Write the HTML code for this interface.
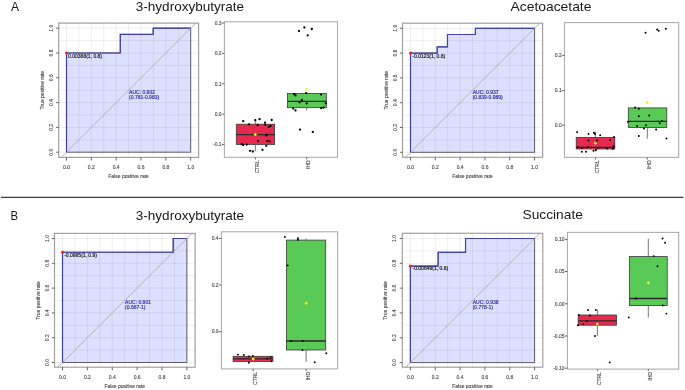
<!DOCTYPE html>
<html><head><meta charset="utf-8"><style>
html,body{margin:0;padding:0;background:#fff;}
svg{display:block;filter:blur(0.45px);}
.t5{font-family:"Liberation Sans", sans-serif;font-size:5px;stroke-width:0.18px;paint-order:stroke;}
.lb{fill:#474747;stroke:#474747;stroke-width:0.12px;}
.tt{font-family:"Liberation Sans", sans-serif;font-size:12.9px;fill:#1a1a1a;}
.gr{stroke:#000;stroke-opacity:0.075;stroke-width:0.9;}
.tk{stroke:#444;stroke-width:0.8;}
</style></head><body>
<svg width="685" height="390" viewBox="0 0 685 390">
<defs><clipPath id="c1"><rect x="58.7" y="23.1" width="139.9" height="134.3"/></clipPath><clipPath id="c2"><rect x="402.5" y="23.2" width="140.1" height="134.1"/></clipPath><clipPath id="c3"><rect x="54.5" y="233.4" width="140.6" height="133.8"/></clipPath><clipPath id="c4"><rect x="402.3" y="233.3" width="140.5" height="133.9"/></clipPath></defs>
<rect width="685" height="390" fill="#fff"/>
<text x="11.1" y="10.75" class="tt" style="font-size:13.2px" textLength="8.1" lengthAdjust="spacingAndGlyphs">A</text>
<text x="10.6" y="219.85" class="tt" style="font-size:13.2px" textLength="7.5" lengthAdjust="spacingAndGlyphs">B</text>
<text x="135.8" y="10.5" class="tt" textLength="108.3" lengthAdjust="spacingAndGlyphs">3-hydroxybutyrate</text>
<text x="510.5" y="10.6" class="tt" textLength="80.9" lengthAdjust="spacingAndGlyphs">Acetoacetate</text>
<text x="135.8" y="219.5" class="tt" textLength="108.3" lengthAdjust="spacingAndGlyphs">3-hydroxybutyrate</text>
<text x="522.5" y="219.4" class="tt" textLength="60.4" lengthAdjust="spacingAndGlyphs">Succinate</text>
<line x1="1" y1="197.35" x2="683.5" y2="197.35" stroke="#3c3c3c" stroke-width="1.25"/>
<polygon points="66.5,152.2 66.5,53 120.28,53 120.28,34.4 153.19,34.4 153.19,28.2 190.7,28.2 190.7,152.2" fill="#dce0fe" stroke="#5a5a6a" stroke-width="0.95"/>
<line x1="66.5" y1="23.1" x2="66.5" y2="157.4" class="gr"/>
<line x1="58.7" y1="152.2" x2="198.6" y2="152.2" class="gr"/>
<line x1="78.92" y1="23.1" x2="78.92" y2="157.4" class="gr"/>
<line x1="58.7" y1="139.8" x2="198.6" y2="139.8" class="gr"/>
<line x1="91.34" y1="23.1" x2="91.34" y2="157.4" class="gr"/>
<line x1="58.7" y1="127.4" x2="198.6" y2="127.4" class="gr"/>
<line x1="103.76" y1="23.1" x2="103.76" y2="157.4" class="gr"/>
<line x1="58.7" y1="115" x2="198.6" y2="115" class="gr"/>
<line x1="116.18" y1="23.1" x2="116.18" y2="157.4" class="gr"/>
<line x1="58.7" y1="102.6" x2="198.6" y2="102.6" class="gr"/>
<line x1="128.6" y1="23.1" x2="128.6" y2="157.4" class="gr"/>
<line x1="58.7" y1="90.2" x2="198.6" y2="90.2" class="gr"/>
<line x1="141.02" y1="23.1" x2="141.02" y2="157.4" class="gr"/>
<line x1="58.7" y1="77.8" x2="198.6" y2="77.8" class="gr"/>
<line x1="153.44" y1="23.1" x2="153.44" y2="157.4" class="gr"/>
<line x1="58.7" y1="65.4" x2="198.6" y2="65.4" class="gr"/>
<line x1="165.86" y1="23.1" x2="165.86" y2="157.4" class="gr"/>
<line x1="58.7" y1="53" x2="198.6" y2="53" class="gr"/>
<line x1="178.28" y1="23.1" x2="178.28" y2="157.4" class="gr"/>
<line x1="58.7" y1="40.6" x2="198.6" y2="40.6" class="gr"/>
<line x1="190.7" y1="23.1" x2="190.7" y2="157.4" class="gr"/>
<line x1="58.7" y1="28.2" x2="198.6" y2="28.2" class="gr"/>
<line x1="59.05" y1="159.64" x2="198.15" y2="20.76" stroke="#b0b0b8" stroke-width="0.95" clip-path="url(#c1)"/>
<polyline points="66.5,152.2 66.5,53 120.28,53 120.28,34.4 153.19,34.4 153.19,28.2 190.7,28.2" fill="none" stroke="#4040aa" stroke-width="1.2"/>
<circle cx="66.5" cy="53" r="1.5" fill="#ff1a1a"/>
<text x="68.1" y="57.7" class="t5" fill="#222" stroke="#222">0.00388(1, 0.8)</text>
<text x="129.1" y="93.8" class="t5" fill="#3434a0" stroke="#3434a0">AUC: 0.902</text>
<text x="129.1" y="99.2" class="t5" fill="#3434a0" stroke="#3434a0">(0.781-0.983)</text>
<rect x="58.7" y="23.1" width="139.9" height="134.3" fill="none" stroke="#a0a0a0" stroke-width="1.2"/>
<line x1="66.5" y1="157.4" x2="66.5" y2="160.5" class="tk"/>
<line x1="56.1" y1="152.2" x2="58.7" y2="152.2" class="tk"/>
<text x="66.5" y="168.8" class="t5 lb" text-anchor="middle">0.0</text>
<text transform="translate(52.9,152.2) rotate(-90)" class="t5 lb" text-anchor="middle">0.0</text>
<line x1="91.34" y1="157.4" x2="91.34" y2="160.5" class="tk"/>
<line x1="56.1" y1="127.4" x2="58.7" y2="127.4" class="tk"/>
<text x="91.34" y="168.8" class="t5 lb" text-anchor="middle">0.2</text>
<text transform="translate(52.9,127.4) rotate(-90)" class="t5 lb" text-anchor="middle">0.2</text>
<line x1="116.18" y1="157.4" x2="116.18" y2="160.5" class="tk"/>
<line x1="56.1" y1="102.6" x2="58.7" y2="102.6" class="tk"/>
<text x="116.18" y="168.8" class="t5 lb" text-anchor="middle">0.4</text>
<text transform="translate(52.9,102.6) rotate(-90)" class="t5 lb" text-anchor="middle">0.4</text>
<line x1="141.02" y1="157.4" x2="141.02" y2="160.5" class="tk"/>
<line x1="56.1" y1="77.8" x2="58.7" y2="77.8" class="tk"/>
<text x="141.02" y="168.8" class="t5 lb" text-anchor="middle">0.6</text>
<text transform="translate(52.9,77.8) rotate(-90)" class="t5 lb" text-anchor="middle">0.6</text>
<line x1="165.86" y1="157.4" x2="165.86" y2="160.5" class="tk"/>
<line x1="56.1" y1="53" x2="58.7" y2="53" class="tk"/>
<text x="165.86" y="168.8" class="t5 lb" text-anchor="middle">0.8</text>
<text transform="translate(52.9,53) rotate(-90)" class="t5 lb" text-anchor="middle">0.8</text>
<line x1="190.7" y1="157.4" x2="190.7" y2="160.5" class="tk"/>
<line x1="56.1" y1="28.2" x2="58.7" y2="28.2" class="tk"/>
<text x="190.7" y="168.8" class="t5 lb" text-anchor="middle">1.0</text>
<text transform="translate(52.9,28.2) rotate(-90)" class="t5 lb" text-anchor="middle">1.0</text>
<text x="128.6" y="177.6" class="t5 lb" text-anchor="middle">False positive rate</text>
<text transform="translate(43.7,90.2) rotate(-90)" class="t5 lb" text-anchor="middle">True positive rate</text>
<polygon points="410.5,152.3 410.5,53.1 437.18,53.1 437.18,46.9 447.48,46.9 447.48,34.5 475.4,34.5 475.4,28.3 534.6,28.3 534.6,152.3" fill="#dce0fe" stroke="#5a5a6a" stroke-width="0.95"/>
<line x1="410.5" y1="23.2" x2="410.5" y2="157.3" class="gr"/>
<line x1="402.5" y1="152.3" x2="542.6" y2="152.3" class="gr"/>
<line x1="422.91" y1="23.2" x2="422.91" y2="157.3" class="gr"/>
<line x1="402.5" y1="139.9" x2="542.6" y2="139.9" class="gr"/>
<line x1="435.32" y1="23.2" x2="435.32" y2="157.3" class="gr"/>
<line x1="402.5" y1="127.5" x2="542.6" y2="127.5" class="gr"/>
<line x1="447.73" y1="23.2" x2="447.73" y2="157.3" class="gr"/>
<line x1="402.5" y1="115.1" x2="542.6" y2="115.1" class="gr"/>
<line x1="460.14" y1="23.2" x2="460.14" y2="157.3" class="gr"/>
<line x1="402.5" y1="102.7" x2="542.6" y2="102.7" class="gr"/>
<line x1="472.55" y1="23.2" x2="472.55" y2="157.3" class="gr"/>
<line x1="402.5" y1="90.3" x2="542.6" y2="90.3" class="gr"/>
<line x1="484.96" y1="23.2" x2="484.96" y2="157.3" class="gr"/>
<line x1="402.5" y1="77.9" x2="542.6" y2="77.9" class="gr"/>
<line x1="497.37" y1="23.2" x2="497.37" y2="157.3" class="gr"/>
<line x1="402.5" y1="65.5" x2="542.6" y2="65.5" class="gr"/>
<line x1="509.78" y1="23.2" x2="509.78" y2="157.3" class="gr"/>
<line x1="402.5" y1="53.1" x2="542.6" y2="53.1" class="gr"/>
<line x1="522.19" y1="23.2" x2="522.19" y2="157.3" class="gr"/>
<line x1="402.5" y1="40.7" x2="542.6" y2="40.7" class="gr"/>
<line x1="534.6" y1="23.2" x2="534.6" y2="157.3" class="gr"/>
<line x1="402.5" y1="28.3" x2="542.6" y2="28.3" class="gr"/>
<line x1="403.05" y1="159.74" x2="542.05" y2="20.86" stroke="#b0b0b8" stroke-width="0.95" clip-path="url(#c2)"/>
<polyline points="410.5,152.3 410.5,53.1 437.18,53.1 437.18,46.9 447.48,46.9 447.48,34.5 475.4,34.5 475.4,28.3 534.6,28.3" fill="none" stroke="#4040aa" stroke-width="1.2"/>
<circle cx="410.5" cy="53.1" r="1.5" fill="#ff1a1a"/>
<text x="412.3" y="57.7" class="t5" fill="#222" stroke="#222">-0.0123(1, 0.8)</text>
<text x="472.7" y="93.8" class="t5" fill="#3434a0" stroke="#3434a0">AUC: 0.937</text>
<text x="472.7" y="99.2" class="t5" fill="#3434a0" stroke="#3434a0">(0.839-0.989)</text>
<rect x="402.5" y="23.2" width="140.1" height="134.1" fill="none" stroke="#a0a0a0" stroke-width="1.2"/>
<line x1="410.5" y1="157.3" x2="410.5" y2="160.4" class="tk"/>
<line x1="399.9" y1="152.3" x2="402.5" y2="152.3" class="tk"/>
<text x="410.5" y="168.7" class="t5 lb" text-anchor="middle">0.0</text>
<text transform="translate(396.7,152.3) rotate(-90)" class="t5 lb" text-anchor="middle">0.0</text>
<line x1="435.32" y1="157.3" x2="435.32" y2="160.4" class="tk"/>
<line x1="399.9" y1="127.5" x2="402.5" y2="127.5" class="tk"/>
<text x="435.32" y="168.7" class="t5 lb" text-anchor="middle">0.2</text>
<text transform="translate(396.7,127.5) rotate(-90)" class="t5 lb" text-anchor="middle">0.2</text>
<line x1="460.14" y1="157.3" x2="460.14" y2="160.4" class="tk"/>
<line x1="399.9" y1="102.7" x2="402.5" y2="102.7" class="tk"/>
<text x="460.14" y="168.7" class="t5 lb" text-anchor="middle">0.4</text>
<text transform="translate(396.7,102.7) rotate(-90)" class="t5 lb" text-anchor="middle">0.4</text>
<line x1="484.96" y1="157.3" x2="484.96" y2="160.4" class="tk"/>
<line x1="399.9" y1="77.9" x2="402.5" y2="77.9" class="tk"/>
<text x="484.96" y="168.7" class="t5 lb" text-anchor="middle">0.6</text>
<text transform="translate(396.7,77.9) rotate(-90)" class="t5 lb" text-anchor="middle">0.6</text>
<line x1="509.78" y1="157.3" x2="509.78" y2="160.4" class="tk"/>
<line x1="399.9" y1="53.1" x2="402.5" y2="53.1" class="tk"/>
<text x="509.78" y="168.7" class="t5 lb" text-anchor="middle">0.8</text>
<text transform="translate(396.7,53.1) rotate(-90)" class="t5 lb" text-anchor="middle">0.8</text>
<line x1="534.6" y1="157.3" x2="534.6" y2="160.4" class="tk"/>
<line x1="399.9" y1="28.3" x2="402.5" y2="28.3" class="tk"/>
<text x="534.6" y="168.7" class="t5 lb" text-anchor="middle">1.0</text>
<text transform="translate(396.7,28.3) rotate(-90)" class="t5 lb" text-anchor="middle">1.0</text>
<text x="472.55" y="177.5" class="t5 lb" text-anchor="middle">False positive rate</text>
<text transform="translate(387.5,90.3) rotate(-90)" class="t5 lb" text-anchor="middle">True positive rate</text>
<polygon points="62.5,362.5 62.5,252.26 173.22,252.26 173.22,238.5 186.9,238.5 186.9,362.5" fill="#dce0fe" stroke="#5a5a6a" stroke-width="0.95"/>
<line x1="62.5" y1="233.4" x2="62.5" y2="367.2" class="gr"/>
<line x1="54.5" y1="362.5" x2="195.1" y2="362.5" class="gr"/>
<line x1="74.94" y1="233.4" x2="74.94" y2="367.2" class="gr"/>
<line x1="54.5" y1="350.1" x2="195.1" y2="350.1" class="gr"/>
<line x1="87.38" y1="233.4" x2="87.38" y2="367.2" class="gr"/>
<line x1="54.5" y1="337.7" x2="195.1" y2="337.7" class="gr"/>
<line x1="99.82" y1="233.4" x2="99.82" y2="367.2" class="gr"/>
<line x1="54.5" y1="325.3" x2="195.1" y2="325.3" class="gr"/>
<line x1="112.26" y1="233.4" x2="112.26" y2="367.2" class="gr"/>
<line x1="54.5" y1="312.9" x2="195.1" y2="312.9" class="gr"/>
<line x1="124.7" y1="233.4" x2="124.7" y2="367.2" class="gr"/>
<line x1="54.5" y1="300.5" x2="195.1" y2="300.5" class="gr"/>
<line x1="137.14" y1="233.4" x2="137.14" y2="367.2" class="gr"/>
<line x1="54.5" y1="288.1" x2="195.1" y2="288.1" class="gr"/>
<line x1="149.58" y1="233.4" x2="149.58" y2="367.2" class="gr"/>
<line x1="54.5" y1="275.7" x2="195.1" y2="275.7" class="gr"/>
<line x1="162.02" y1="233.4" x2="162.02" y2="367.2" class="gr"/>
<line x1="54.5" y1="263.3" x2="195.1" y2="263.3" class="gr"/>
<line x1="174.46" y1="233.4" x2="174.46" y2="367.2" class="gr"/>
<line x1="54.5" y1="250.9" x2="195.1" y2="250.9" class="gr"/>
<line x1="186.9" y1="233.4" x2="186.9" y2="367.2" class="gr"/>
<line x1="54.5" y1="238.5" x2="195.1" y2="238.5" class="gr"/>
<line x1="55.04" y1="369.94" x2="194.36" y2="231.06" stroke="#b0b0b8" stroke-width="0.95" clip-path="url(#c3)"/>
<polyline points="62.5,362.5 62.5,252.26 173.22,252.26 173.22,238.5 186.9,238.5" fill="none" stroke="#4040aa" stroke-width="1.2"/>
<circle cx="62.5" cy="252.26" r="1.5" fill="#ff1a1a"/>
<text x="64.2" y="256.7" class="t5" fill="#222" stroke="#222">-0.0995(1, 0.9)</text>
<text x="125.1" y="303.9" class="t5" fill="#3434a0" stroke="#3434a0">AUC: 0.901</text>
<text x="125.1" y="309.4" class="t5" fill="#3434a0" stroke="#3434a0">(0.667-1)</text>
<rect x="54.5" y="233.4" width="140.6" height="133.8" fill="none" stroke="#a0a0a0" stroke-width="1.2"/>
<line x1="62.5" y1="367.2" x2="62.5" y2="370.3" class="tk"/>
<line x1="51.9" y1="362.5" x2="54.5" y2="362.5" class="tk"/>
<text x="62.5" y="378.8" class="t5 lb" text-anchor="middle">0.0</text>
<text transform="translate(48.6,362.5) rotate(-90)" class="t5 lb" text-anchor="middle">0.0</text>
<line x1="87.38" y1="367.2" x2="87.38" y2="370.3" class="tk"/>
<line x1="51.9" y1="337.7" x2="54.5" y2="337.7" class="tk"/>
<text x="87.38" y="378.8" class="t5 lb" text-anchor="middle">0.2</text>
<text transform="translate(48.6,337.7) rotate(-90)" class="t5 lb" text-anchor="middle">0.2</text>
<line x1="112.26" y1="367.2" x2="112.26" y2="370.3" class="tk"/>
<line x1="51.9" y1="312.9" x2="54.5" y2="312.9" class="tk"/>
<text x="112.26" y="378.8" class="t5 lb" text-anchor="middle">0.4</text>
<text transform="translate(48.6,312.9) rotate(-90)" class="t5 lb" text-anchor="middle">0.4</text>
<line x1="137.14" y1="367.2" x2="137.14" y2="370.3" class="tk"/>
<line x1="51.9" y1="288.1" x2="54.5" y2="288.1" class="tk"/>
<text x="137.14" y="378.8" class="t5 lb" text-anchor="middle">0.6</text>
<text transform="translate(48.6,288.1) rotate(-90)" class="t5 lb" text-anchor="middle">0.6</text>
<line x1="162.02" y1="367.2" x2="162.02" y2="370.3" class="tk"/>
<line x1="51.9" y1="263.3" x2="54.5" y2="263.3" class="tk"/>
<text x="162.02" y="378.8" class="t5 lb" text-anchor="middle">0.8</text>
<text transform="translate(48.6,263.3) rotate(-90)" class="t5 lb" text-anchor="middle">0.8</text>
<line x1="186.9" y1="367.2" x2="186.9" y2="370.3" class="tk"/>
<line x1="51.9" y1="238.5" x2="54.5" y2="238.5" class="tk"/>
<text x="186.9" y="378.8" class="t5 lb" text-anchor="middle">1.0</text>
<text transform="translate(48.6,238.5) rotate(-90)" class="t5 lb" text-anchor="middle">1.0</text>
<text x="124.7" y="387.7" class="t5 lb" text-anchor="middle">False positive rate</text>
<text transform="translate(39.6,300.5) rotate(-90)" class="t5 lb" text-anchor="middle">True positive rate</text>
<polygon points="410.4,362.6 410.4,266.05 438.1,266.05 438.1,252.28 465.54,252.28 465.54,238.5 534.6,238.5 534.6,362.6" fill="#dce0fe" stroke="#5a5a6a" stroke-width="0.95"/>
<line x1="410.4" y1="233.3" x2="410.4" y2="367.2" class="gr"/>
<line x1="402.3" y1="362.6" x2="542.8" y2="362.6" class="gr"/>
<line x1="422.82" y1="233.3" x2="422.82" y2="367.2" class="gr"/>
<line x1="402.3" y1="350.19" x2="542.8" y2="350.19" class="gr"/>
<line x1="435.24" y1="233.3" x2="435.24" y2="367.2" class="gr"/>
<line x1="402.3" y1="337.78" x2="542.8" y2="337.78" class="gr"/>
<line x1="447.66" y1="233.3" x2="447.66" y2="367.2" class="gr"/>
<line x1="402.3" y1="325.37" x2="542.8" y2="325.37" class="gr"/>
<line x1="460.08" y1="233.3" x2="460.08" y2="367.2" class="gr"/>
<line x1="402.3" y1="312.96" x2="542.8" y2="312.96" class="gr"/>
<line x1="472.5" y1="233.3" x2="472.5" y2="367.2" class="gr"/>
<line x1="402.3" y1="300.55" x2="542.8" y2="300.55" class="gr"/>
<line x1="484.92" y1="233.3" x2="484.92" y2="367.2" class="gr"/>
<line x1="402.3" y1="288.14" x2="542.8" y2="288.14" class="gr"/>
<line x1="497.34" y1="233.3" x2="497.34" y2="367.2" class="gr"/>
<line x1="402.3" y1="275.73" x2="542.8" y2="275.73" class="gr"/>
<line x1="509.76" y1="233.3" x2="509.76" y2="367.2" class="gr"/>
<line x1="402.3" y1="263.32" x2="542.8" y2="263.32" class="gr"/>
<line x1="522.18" y1="233.3" x2="522.18" y2="367.2" class="gr"/>
<line x1="402.3" y1="250.91" x2="542.8" y2="250.91" class="gr"/>
<line x1="534.6" y1="233.3" x2="534.6" y2="367.2" class="gr"/>
<line x1="402.3" y1="238.5" x2="542.8" y2="238.5" class="gr"/>
<line x1="402.95" y1="370.05" x2="542.05" y2="231.05" stroke="#b0b0b8" stroke-width="0.95" clip-path="url(#c4)"/>
<polyline points="410.4,362.6 410.4,266.05 438.1,266.05 438.1,252.28 465.54,252.28 465.54,238.5 534.6,238.5" fill="none" stroke="#4040aa" stroke-width="1.2"/>
<circle cx="410.4" cy="266.05" r="1.5" fill="#ff1a1a"/>
<text x="412.5" y="270.4" class="t5" fill="#222" stroke="#222">-0.00649(1, 0.8)</text>
<text x="472.7" y="303.8" class="t5" fill="#3434a0" stroke="#3434a0">AUC: 0.938</text>
<text x="472.7" y="309.2" class="t5" fill="#3434a0" stroke="#3434a0">(0.778-1)</text>
<rect x="402.3" y="233.3" width="140.5" height="133.9" fill="none" stroke="#a0a0a0" stroke-width="1.2"/>
<line x1="410.4" y1="367.2" x2="410.4" y2="370.3" class="tk"/>
<line x1="399.7" y1="362.6" x2="402.3" y2="362.6" class="tk"/>
<text x="410.4" y="378.8" class="t5 lb" text-anchor="middle">0.0</text>
<text transform="translate(396.4,362.6) rotate(-90)" class="t5 lb" text-anchor="middle">0.0</text>
<line x1="435.24" y1="367.2" x2="435.24" y2="370.3" class="tk"/>
<line x1="399.7" y1="337.78" x2="402.3" y2="337.78" class="tk"/>
<text x="435.24" y="378.8" class="t5 lb" text-anchor="middle">0.2</text>
<text transform="translate(396.4,337.78) rotate(-90)" class="t5 lb" text-anchor="middle">0.2</text>
<line x1="460.08" y1="367.2" x2="460.08" y2="370.3" class="tk"/>
<line x1="399.7" y1="312.96" x2="402.3" y2="312.96" class="tk"/>
<text x="460.08" y="378.8" class="t5 lb" text-anchor="middle">0.4</text>
<text transform="translate(396.4,312.96) rotate(-90)" class="t5 lb" text-anchor="middle">0.4</text>
<line x1="484.92" y1="367.2" x2="484.92" y2="370.3" class="tk"/>
<line x1="399.7" y1="288.14" x2="402.3" y2="288.14" class="tk"/>
<text x="484.92" y="378.8" class="t5 lb" text-anchor="middle">0.6</text>
<text transform="translate(396.4,288.14) rotate(-90)" class="t5 lb" text-anchor="middle">0.6</text>
<line x1="509.76" y1="367.2" x2="509.76" y2="370.3" class="tk"/>
<line x1="399.7" y1="263.32" x2="402.3" y2="263.32" class="tk"/>
<text x="509.76" y="378.8" class="t5 lb" text-anchor="middle">0.8</text>
<text transform="translate(396.4,263.32) rotate(-90)" class="t5 lb" text-anchor="middle">0.8</text>
<line x1="534.6" y1="367.2" x2="534.6" y2="370.3" class="tk"/>
<line x1="399.7" y1="238.5" x2="402.3" y2="238.5" class="tk"/>
<text x="534.6" y="378.8" class="t5 lb" text-anchor="middle">1.0</text>
<text transform="translate(396.4,238.5) rotate(-90)" class="t5 lb" text-anchor="middle">1.0</text>
<text x="472.5" y="387.7" class="t5 lb" text-anchor="middle">False positive rate</text>
<text transform="translate(387.4,300.55) rotate(-90)" class="t5 lb" text-anchor="middle">True positive rate</text>
<rect x="224.4" y="21.8" width="113.1" height="135.5" fill="#fff" stroke="#adadad" stroke-width="1.1"/>
<line x1="255.3" y1="119.6" x2="255.3" y2="124.2" stroke="#555" stroke-width="0.8"/>
<line x1="255.3" y1="144.4" x2="255.3" y2="151.3" stroke="#555" stroke-width="0.8"/>
<rect x="236.3" y="124.2" width="38.3" height="20.2" fill="#e6294f" stroke="#3a3a3a" stroke-width="0.8"/>
<line x1="236.3" y1="134.6" x2="274.6" y2="134.6" stroke="#2a2a2a" stroke-width="1.3"/>
<circle cx="243.2" cy="121.2" r="1.15" fill="#000"/>
<circle cx="249" cy="124.4" r="1.15" fill="#000"/>
<circle cx="255.3" cy="120.2" r="1.15" fill="#000"/>
<circle cx="259.6" cy="119.2" r="1.15" fill="#000"/>
<circle cx="265" cy="122.7" r="1.15" fill="#000"/>
<circle cx="265.3" cy="124.8" r="1.15" fill="#000"/>
<circle cx="271.7" cy="120" r="1.15" fill="#000"/>
<circle cx="257.7" cy="125" r="1.15" fill="#000"/>
<circle cx="268.8" cy="126.9" r="1.15" fill="#000"/>
<circle cx="270.5" cy="126" r="1.15" fill="#000"/>
<circle cx="266.7" cy="134.6" r="1.15" fill="#000"/>
<circle cx="266.3" cy="135.4" r="1.15" fill="#000"/>
<circle cx="258" cy="141.2" r="1.15" fill="#000"/>
<circle cx="267.3" cy="141.2" r="1.15" fill="#000"/>
<circle cx="269.6" cy="141.5" r="1.15" fill="#000"/>
<circle cx="241.7" cy="144.2" r="1.15" fill="#000"/>
<circle cx="243.2" cy="145" r="1.15" fill="#000"/>
<circle cx="246.7" cy="144.6" r="1.15" fill="#000"/>
<circle cx="266.3" cy="145.8" r="1.15" fill="#000"/>
<circle cx="250" cy="150.8" r="1.15" fill="#000"/>
<circle cx="252.8" cy="151.5" r="1.15" fill="#000"/>
<circle cx="262.5" cy="149.8" r="1.15" fill="#000"/>
<path d="M255.3,132.85 L257.05,134.6 L255.3,136.35 L253.55,134.6Z" fill="#f0f032"/>
<line x1="255.3" y1="157.3" x2="255.3" y2="159.5" class="tk"/>
<text transform="translate(258.9,160.3) rotate(-90)" class="t5 lb" text-anchor="end">CTRL</text>
<line x1="306.7" y1="92.5" x2="306.7" y2="93.4" stroke="#555" stroke-width="0.8"/>
<line x1="306.7" y1="107.7" x2="306.7" y2="110.4" stroke="#555" stroke-width="0.8"/>
<rect x="287.5" y="93.4" width="38.8" height="14.3" fill="#5aca56" stroke="#3a3a3a" stroke-width="0.8"/>
<line x1="287.5" y1="101.3" x2="326.3" y2="101.3" stroke="#2a2a2a" stroke-width="1.3"/>
<circle cx="294.2" cy="94.2" r="1.15" fill="#000"/>
<circle cx="295.5" cy="95.4" r="1.15" fill="#000"/>
<circle cx="306.1" cy="93.1" r="1.15" fill="#000"/>
<circle cx="321.1" cy="94.6" r="1.15" fill="#000"/>
<circle cx="301.9" cy="100" r="1.15" fill="#000"/>
<circle cx="299.6" cy="102.3" r="1.15" fill="#000"/>
<circle cx="306.7" cy="103.3" r="1.15" fill="#000"/>
<circle cx="325.9" cy="103.3" r="1.15" fill="#000"/>
<circle cx="293.2" cy="108.5" r="1.15" fill="#000"/>
<circle cx="295.5" cy="110.4" r="1.15" fill="#000"/>
<circle cx="321.1" cy="108.1" r="1.15" fill="#000"/>
<circle cx="323.4" cy="107.7" r="1.15" fill="#000"/>
<circle cx="300" cy="129.6" r="1.15" fill="#000"/>
<circle cx="312.8" cy="131.9" r="1.15" fill="#000"/>
<circle cx="299" cy="31.1" r="1.15" fill="#000"/>
<circle cx="304.4" cy="27.5" r="1.15" fill="#000"/>
<circle cx="311.8" cy="29" r="1.15" fill="#000"/>
<circle cx="307.7" cy="35.3" r="1.15" fill="#000"/>
<path d="M306.7,87.55 L308.45,89.3 L306.7,91.05 L304.95,89.3Z" fill="#f0f032"/>
<line x1="306.7" y1="157.3" x2="306.7" y2="159.5" class="tk"/>
<text transform="translate(310.3,160.3) rotate(-90)" class="t5 lb" text-anchor="end">IHD</text>
<line x1="222" y1="23" x2="224.4" y2="23" class="tk"/>
<text x="221.6" y="24.8" class="t5 lb" text-anchor="end">0.3</text>
<line x1="222" y1="53.4" x2="224.4" y2="53.4" class="tk"/>
<text x="221.6" y="55.2" class="t5 lb" text-anchor="end">0.2</text>
<line x1="222" y1="83.7" x2="224.4" y2="83.7" class="tk"/>
<text x="221.6" y="85.5" class="t5 lb" text-anchor="end">0.1</text>
<line x1="222" y1="114.1" x2="224.4" y2="114.1" class="tk"/>
<text x="221.6" y="115.9" class="t5 lb" text-anchor="end">0.0</text>
<line x1="222" y1="144.5" x2="224.4" y2="144.5" class="tk"/>
<text x="221.6" y="146.3" class="t5 lb" text-anchor="end">-0.1</text>
<rect x="564.5" y="22.6" width="114.2" height="134.8" fill="#fff" stroke="#adadad" stroke-width="1.1"/>
<line x1="595.4" y1="131.6" x2="595.4" y2="137.4" stroke="#555" stroke-width="0.8"/>
<line x1="595.4" y1="149" x2="595.4" y2="151.7" stroke="#555" stroke-width="0.8"/>
<rect x="576.2" y="137.4" width="38.6" height="11.6" fill="#e6294f" stroke="#3a3a3a" stroke-width="0.8"/>
<line x1="576.2" y1="147.3" x2="614.8" y2="147.3" stroke="#2a2a2a" stroke-width="1.3"/>
<circle cx="577.1" cy="132.2" r="1.0" fill="#000"/>
<circle cx="588.5" cy="133.9" r="1.0" fill="#000"/>
<circle cx="593.9" cy="132.8" r="1.0" fill="#000"/>
<circle cx="594.9" cy="133.9" r="1.0" fill="#000"/>
<circle cx="600.2" cy="135.3" r="1.0" fill="#000"/>
<circle cx="588.5" cy="140.6" r="1.0" fill="#000"/>
<circle cx="596.9" cy="140.6" r="1.0" fill="#000"/>
<circle cx="610" cy="140" r="1.0" fill="#000"/>
<circle cx="614" cy="137" r="1.0" fill="#000"/>
<circle cx="577.6" cy="147.3" r="1.0" fill="#000"/>
<circle cx="581.8" cy="147.9" r="1.0" fill="#000"/>
<circle cx="587.7" cy="147" r="1.0" fill="#000"/>
<circle cx="597.7" cy="147.9" r="1.0" fill="#000"/>
<circle cx="607" cy="148.4" r="1.0" fill="#000"/>
<circle cx="612.8" cy="148.7" r="1.0" fill="#000"/>
<circle cx="581.8" cy="151.7" r="1.0" fill="#000"/>
<circle cx="586" cy="151.7" r="1.0" fill="#000"/>
<circle cx="593.5" cy="150.7" r="1.0" fill="#000"/>
<circle cx="596" cy="150" r="1.0" fill="#000"/>
<circle cx="613.7" cy="146.2" r="1.0" fill="#000"/>
<path d="M595.4,141.55 L597.15,143.3 L595.4,145.05 L593.65,143.3Z" fill="#f0f032"/>
<line x1="595.4" y1="157.4" x2="595.4" y2="159.6" class="tk"/>
<text transform="translate(599,160.4) rotate(-90)" class="t5 lb" text-anchor="end">CTRL</text>
<line x1="647.3" y1="127.4" x2="647.3" y2="138.6" stroke="#555" stroke-width="0.8"/>
<rect x="628.3" y="107.9" width="38.5" height="19.5" fill="#5aca56" stroke="#3a3a3a" stroke-width="0.8"/>
<line x1="628.3" y1="121.3" x2="666.8" y2="121.3" stroke="#2a2a2a" stroke-width="1.3"/>
<circle cx="635.1" cy="107.6" r="1.0" fill="#000"/>
<circle cx="638.8" cy="108.8" r="1.0" fill="#000"/>
<circle cx="638.8" cy="116.3" r="1.0" fill="#000"/>
<circle cx="649.2" cy="115.5" r="1.0" fill="#000"/>
<circle cx="627.9" cy="121.8" r="1.0" fill="#000"/>
<circle cx="637.1" cy="126" r="1.0" fill="#000"/>
<circle cx="646" cy="125.2" r="1.0" fill="#000"/>
<circle cx="643.9" cy="128.6" r="1.0" fill="#000"/>
<circle cx="659.8" cy="123.2" r="1.0" fill="#000"/>
<circle cx="661.8" cy="121" r="1.0" fill="#000"/>
<circle cx="656.1" cy="129.4" r="1.0" fill="#000"/>
<circle cx="638.8" cy="136.1" r="1.0" fill="#000"/>
<circle cx="666.5" cy="138.6" r="1.0" fill="#000"/>
<circle cx="645.5" cy="32.7" r="1.0" fill="#000"/>
<circle cx="657.1" cy="29.5" r="1.0" fill="#000"/>
<circle cx="658.7" cy="30.8" r="1.0" fill="#000"/>
<circle cx="665.8" cy="28.7" r="1.0" fill="#000"/>
<path d="M647.2,100.85 L648.95,102.6 L647.2,104.35 L645.45,102.6Z" fill="#f0f032"/>
<line x1="647.3" y1="157.4" x2="647.3" y2="159.6" class="tk"/>
<text transform="translate(650.9,160.4) rotate(-90)" class="t5 lb" text-anchor="end">IHD</text>
<line x1="562.1" y1="55.4" x2="564.5" y2="55.4" class="tk"/>
<text x="561.7" y="57.2" class="t5 lb" text-anchor="end">0.2</text>
<line x1="562.1" y1="90.5" x2="564.5" y2="90.5" class="tk"/>
<text x="561.7" y="92.3" class="t5 lb" text-anchor="end">0.1</text>
<line x1="562.1" y1="125.2" x2="564.5" y2="125.2" class="tk"/>
<text x="561.7" y="127" class="t5 lb" text-anchor="end">0.0</text>
<rect x="221.4" y="231.8" width="116.2" height="137.1" fill="#fff" stroke="#adadad" stroke-width="1.1"/>
<rect x="233.1" y="356.3" width="39.8" height="5.1" fill="#e6294f" stroke="#3a3a3a" stroke-width="0.8"/>
<line x1="233.1" y1="358.8" x2="272.9" y2="358.8" stroke="#2a2a2a" stroke-width="1.3"/>
<circle cx="237.9" cy="354.6" r="0.95" fill="#000"/>
<circle cx="243.8" cy="355" r="0.95" fill="#000"/>
<circle cx="248.9" cy="356.4" r="0.95" fill="#000"/>
<circle cx="252.8" cy="355.9" r="0.95" fill="#000"/>
<circle cx="248.9" cy="362.7" r="0.95" fill="#000"/>
<circle cx="267.2" cy="358.6" r="0.95" fill="#000"/>
<circle cx="271.3" cy="361.3" r="0.95" fill="#000"/>
<circle cx="270.7" cy="357.1" r="0.95" fill="#000"/>
<path d="M253.2,357.15 L254.95,358.9 L253.2,360.65 L251.45,358.9Z" fill="#f0f032"/>
<line x1="253.2" y1="368.9" x2="253.2" y2="371.1" class="tk"/>
<text transform="translate(256.8,371.9) rotate(-90)" class="t5 lb" text-anchor="end">CTRL</text>
<line x1="306.1" y1="238.6" x2="306.1" y2="240.1" stroke="#555" stroke-width="0.8"/>
<line x1="306.1" y1="350" x2="306.1" y2="361.9" stroke="#555" stroke-width="0.8"/>
<rect x="286.4" y="240.1" width="39.3" height="109.9" fill="#5aca56" stroke="#3a3a3a" stroke-width="0.8"/>
<line x1="286.4" y1="341" x2="325.7" y2="341" stroke="#2a2a2a" stroke-width="1.3"/>
<circle cx="291" cy="341" r="0.95" fill="#000"/>
<circle cx="302.5" cy="341" r="0.95" fill="#000"/>
<circle cx="302.5" cy="350" r="0.95" fill="#000"/>
<circle cx="326.3" cy="353.2" r="0.95" fill="#000"/>
<circle cx="314.7" cy="362.2" r="0.95" fill="#000"/>
<circle cx="284.9" cy="237" r="0.95" fill="#000"/>
<circle cx="297.9" cy="238.3" r="0.95" fill="#000"/>
<circle cx="297.9" cy="239.7" r="0.95" fill="#000"/>
<circle cx="287.7" cy="265.4" r="0.95" fill="#000"/>
<path d="M306.2,301.55 L307.95,303.3 L306.2,305.05 L304.45,303.3Z" fill="#f0f032"/>
<line x1="306.1" y1="368.9" x2="306.1" y2="371.1" class="tk"/>
<text transform="translate(309.7,371.9) rotate(-90)" class="t5 lb" text-anchor="end">IHD</text>
<line x1="219" y1="238.5" x2="221.4" y2="238.5" class="tk"/>
<text x="218.6" y="240.3" class="t5 lb" text-anchor="end">0.4</text>
<line x1="219" y1="285" x2="221.4" y2="285" class="tk"/>
<text x="218.6" y="286.8" class="t5 lb" text-anchor="end">0.2</text>
<line x1="219" y1="331.6" x2="221.4" y2="331.6" class="tk"/>
<text x="218.6" y="333.4" class="t5 lb" text-anchor="end">0.0</text>
<rect x="567.4" y="232.4" width="111.3" height="136.7" fill="#fff" stroke="#adadad" stroke-width="1.1"/>
<line x1="597.4" y1="309.6" x2="597.4" y2="315" stroke="#555" stroke-width="0.8"/>
<line x1="597.4" y1="325.2" x2="597.4" y2="336" stroke="#555" stroke-width="0.8"/>
<rect x="578.2" y="315" width="38.3" height="10.2" fill="#e6294f" stroke="#3a3a3a" stroke-width="0.8"/>
<line x1="578.2" y1="320.8" x2="616.5" y2="320.8" stroke="#2a2a2a" stroke-width="1.3"/>
<circle cx="588.1" cy="310" r="0.95" fill="#000"/>
<circle cx="595.8" cy="310" r="0.95" fill="#000"/>
<circle cx="578.8" cy="315" r="0.95" fill="#000"/>
<circle cx="589.9" cy="315.5" r="0.95" fill="#000"/>
<circle cx="586.9" cy="321" r="0.95" fill="#000"/>
<circle cx="583.3" cy="324" r="0.95" fill="#000"/>
<circle cx="577.9" cy="325.2" r="0.95" fill="#000"/>
<circle cx="594.9" cy="336" r="0.95" fill="#000"/>
<circle cx="609.7" cy="362.4" r="0.95" fill="#000"/>
<path d="M597.3,322.25 L599.05,324 L597.3,325.75 L595.55,324Z" fill="#f0f032"/>
<line x1="597.4" y1="369.1" x2="597.4" y2="371.3" class="tk"/>
<text transform="translate(601,372.1) rotate(-90)" class="t5 lb" text-anchor="end">CTRL</text>
<line x1="648.3" y1="238.6" x2="648.3" y2="256.6" stroke="#555" stroke-width="0.8"/>
<line x1="648.3" y1="305.5" x2="648.3" y2="317.7" stroke="#555" stroke-width="0.8"/>
<rect x="629.4" y="256.6" width="37.8" height="48.9" fill="#5aca56" stroke="#3a3a3a" stroke-width="0.8"/>
<line x1="629.4" y1="298.5" x2="667.2" y2="298.5" stroke="#2a2a2a" stroke-width="1.3"/>
<circle cx="662.6" cy="238.5" r="0.95" fill="#000"/>
<circle cx="665.1" cy="242.8" r="0.95" fill="#000"/>
<circle cx="653.8" cy="256.1" r="0.95" fill="#000"/>
<circle cx="657.5" cy="266.2" r="0.95" fill="#000"/>
<circle cx="635.9" cy="298.5" r="0.95" fill="#000"/>
<circle cx="662.8" cy="305.5" r="0.95" fill="#000"/>
<circle cx="666.4" cy="313.6" r="0.95" fill="#000"/>
<circle cx="628.8" cy="317.4" r="0.95" fill="#000"/>
<path d="M648.3,280.95 L650.05,282.7 L648.3,284.45 L646.55,282.7Z" fill="#f0f032"/>
<line x1="648.3" y1="369.1" x2="648.3" y2="371.3" class="tk"/>
<text transform="translate(651.9,372.1) rotate(-90)" class="t5 lb" text-anchor="end">IHD</text>
<line x1="565" y1="239.3" x2="567.4" y2="239.3" class="tk"/>
<text x="564.6" y="241.1" class="t5 lb" text-anchor="end">0.10</text>
<line x1="565" y1="271.5" x2="567.4" y2="271.5" class="tk"/>
<text x="564.6" y="273.3" class="t5 lb" text-anchor="end">0.05</text>
<line x1="565" y1="303.75" x2="567.4" y2="303.75" class="tk"/>
<text x="564.6" y="305.55" class="t5 lb" text-anchor="end">0.00</text>
<line x1="565" y1="336" x2="567.4" y2="336" class="tk"/>
<text x="564.6" y="337.8" class="t5 lb" text-anchor="end">-0.05</text>
<line x1="565" y1="368.2" x2="567.4" y2="368.2" class="tk"/>
<text x="564.6" y="370" class="t5 lb" text-anchor="end">-0.10</text>
</svg>
</body></html>
